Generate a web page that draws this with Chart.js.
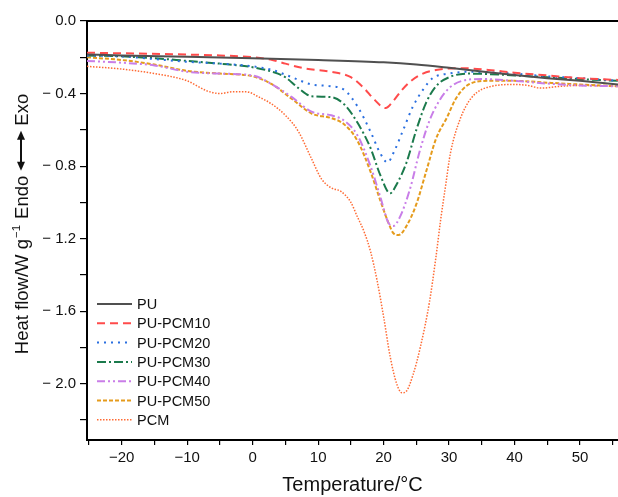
<!DOCTYPE html>
<html>
<head>
<meta charset="utf-8">
<title>DSC curves</title>
<script src="https://cdn.jsdelivr.net/npm/chart.js@4.4.1/dist/chart.umd.min.js"></script>
<style>
  html, body { margin: 0; padding: 0; background: #fff; }
  canvas { display: block; }
</style>
</head>
<body>
<canvas id="dscChart" width="618" height="497"></canvas>
<script>
// temperatures (°C) and heat flow (W/g)
const puT = [-25.3, -20, -10, 0, 10, 20, 25, 30, 35, 40, 45, 50, 55.8];
const puY = [-0.185, -0.19, -0.197, -0.205, -0.215, -0.228, -0.24, -0.258, -0.278, -0.298, -0.315, -0.33, -0.35];

const pcm10T = [-25.3, -20, -10, -5, 0, 3, 5, 8, 12, 15, 17, 18.5, 20.3, 21.5, 22.8, 24.2, 26, 28, 32, 36, 40, 45, 50, 55.8];
const pcm10Y = [-0.175, -0.178, -0.185, -0.19, -0.2, -0.215, -0.235, -0.262, -0.28, -0.31, -0.37, -0.43, -0.48, -0.44, -0.38, -0.33, -0.29, -0.27, -0.26, -0.27, -0.285, -0.3, -0.315, -0.325];

const pcm20T = [-25.3, -20, -15, -10, -5, 0, 3, 6, 9, 12, 14, 16, 18, 19.5, 20.6, 21.6, 23, 24.5, 26, 27.5, 30, 33, 40, 45, 50, 55.8];
const pcm20Y = [-0.19, -0.195, -0.21, -0.225, -0.235, -0.25, -0.27, -0.31, -0.35, -0.36, -0.38, -0.47, -0.61, -0.73, -0.78, -0.72, -0.6, -0.47, -0.38, -0.315, -0.29, -0.28, -0.29, -0.305, -0.315, -0.33];

const pcm30T = [-25.3, -20, -15, -10, -5, 0, 3, 5, 7, 9, 12, 14, 16, 18, 19.5, 21, 22, 23.5, 25, 26.5, 28, 30, 33, 40, 45, 50, 55.8];
const pcm30Y = [-0.19, -0.195, -0.205, -0.22, -0.235, -0.255, -0.28, -0.31, -0.37, -0.415, -0.42, -0.46, -0.56, -0.7, -0.85, -0.95, -0.9, -0.78, -0.6, -0.45, -0.36, -0.31, -0.29, -0.3, -0.31, -0.32, -0.33];

const pcm40T = [-25.3, -20, -15, -10, -5, 0, 3, 6, 9, 12, 14, 16, 18, 19.5, 20.7, 21.5, 22.5, 24, 25.5, 27, 28.5, 30, 32, 35, 40, 45, 50, 55.8];
const pcm40Y = [-0.22, -0.23, -0.245, -0.28, -0.29, -0.3, -0.35, -0.42, -0.5, -0.52, -0.55, -0.63, -0.8, -0.97, -1.11, -1.13, -1.08, -0.93, -0.72, -0.55, -0.44, -0.37, -0.33, -0.32, -0.33, -0.345, -0.355, -0.36];

const pcm50T = [-25.3, -20, -15, -10, -5, 0, 3, 6, 9, 12, 14, 16, 18, 19.5, 20.6, 21.5, 22.3, 23.5, 25, 26.5, 28, 29.7, 31, 33, 36, 40, 45, 50, 55.8];
const pcm50Y = [-0.2, -0.215, -0.24, -0.275, -0.29, -0.305, -0.35, -0.43, -0.51, -0.535, -0.57, -0.66, -0.83, -0.99, -1.1, -1.17, -1.18, -1.13, -1.01, -0.83, -0.65, -0.53, -0.43, -0.35, -0.33, -0.33, -0.34, -0.35, -0.36];

const pcmT = [-25.3, -20, -15, -10, -7, -5, -3, -1, 1, 3, 5, 7, 9, 10.5, 12, 13.5, 15, 16, 17, 18, 19, 20, 21, 22, 22.8, 23.5, 24.5, 25.6, 27, 28, 28.7, 29.5, 30.2, 31.7, 33.5, 36.5, 40, 42, 44, 47, 50, 55.8];
const pcmY = [-0.25, -0.265, -0.29, -0.33, -0.385, -0.4, -0.39, -0.39, -0.42, -0.46, -0.52, -0.61, -0.76, -0.87, -0.92, -0.94, -1.0, -1.08, -1.16, -1.27, -1.43, -1.63, -1.85, -2.0, -2.05, -2.04, -1.95, -1.8, -1.55, -1.3, -1.1, -0.9, -0.73, -0.54, -0.42, -0.36, -0.35, -0.355, -0.37, -0.36, -0.355, -0.36];

const seriesNames = ['PU', 'PU-PCM10', 'PU-PCM20', 'PU-PCM30', 'PU-PCM40', 'PU-PCM50', 'PCM'];

const FONT = '"Liberation Sans", Arial, Helvetica, sans-serif';

function toPoints(xs, ys) {
    return xs.map((x, i) => ({ x: x, y: ys[i] }));
}

function line(label, xs, ys, color, dash, width) {
    return {
        label: label,
        data: toPoints(xs, ys),
        borderColor: color,
        backgroundColor: color,
        borderDash: dash,
        borderWidth: width,
        pointRadius: 0,
        fill: false,
        cubicInterpolationMode: 'monotone'
    };
}

// legend drawn inside the plot, bottom left
const insideLegend = {
    id: 'insideLegend',
    afterDatasetsDraw(chart) {
        const ctx = chart.ctx;
        ctx.save();
        ctx.font = '14.5px ' + FONT;
        ctx.textBaseline = 'middle';
        chart.data.datasets.forEach((ds, i) => {
            const y = 304 + i * 19.3;
            ctx.strokeStyle = ds.borderColor;
            ctx.lineWidth = ds.borderWidth;
            ctx.setLineDash(ds.borderDash || []);
            ctx.beginPath();
            ctx.moveTo(97, y);
            ctx.lineTo(132, y);
            ctx.stroke();
            ctx.setLineDash([]);
            ctx.fillStyle = '#111';
            ctx.fillText(ds.label, 137, y + 1);
        });
        ctx.restore();
    }
};

// frame top line + rotated y title with superscript and arrow
const frameAndTitle = {
    id: 'frameAndTitle',
    afterDraw(chart) {
        const ctx = chart.ctx;
        const a = chart.chartArea;
        ctx.save();
        ctx.strokeStyle = '#000';
        ctx.lineWidth = 2;
        ctx.beginPath();
        ctx.moveTo(a.left, a.top);
        ctx.lineTo(a.right, a.top);
        ctx.stroke();

        ctx.translate(21, 224);
        ctx.rotate(-Math.PI / 2);
        ctx.fillStyle = '#111';
        ctx.textBaseline = 'alphabetic';
        const big = '18.5px ' + FONT;
        const small = '11.5px ' + FONT;
        ctx.font = big;
        const t1 = 'Heat flow/W g';
        const w1 = ctx.measureText(t1).width;
        const tEndo = 'Endo';
        const wEndo = ctx.measureText(tEndo).width;
        const tExo = 'Exo';
        const wExo = ctx.measureText(tExo).width;
        ctx.font = small;
        const tSup = '\u22121';
        const wSup = ctx.measureText(tSup).width;
        const gap = 5;
        const arrowLen = 40;
        const total = w1 + wSup + gap + 2 + wEndo + gap + arrowLen + gap + wExo;
        let x = -total / 2;
        const base = 7;

        ctx.font = big;
        ctx.fillText(t1, x, base);
        x += w1 + 1;
        ctx.font = small;
        ctx.fillText(tSup, x, base - 8);
        x += wSup + gap + 1;
        ctx.font = big;
        ctx.fillText(tEndo, x, base);
        x += wEndo + gap;

        // double headed arrow
        const cy = 0;
        ctx.strokeStyle = '#111';
        ctx.lineWidth = 2;
        ctx.beginPath();
        ctx.moveTo(x + 6, cy);
        ctx.lineTo(x + arrowLen - 6, cy);
        ctx.stroke();
        ctx.beginPath();
        ctx.moveTo(x, cy);
        ctx.lineTo(x + 9, cy - 4);
        ctx.lineTo(x + 9, cy + 4);
        ctx.closePath();
        ctx.fill();
        ctx.beginPath();
        ctx.moveTo(x + arrowLen, cy);
        ctx.lineTo(x + arrowLen - 9, cy - 4);
        ctx.lineTo(x + arrowLen - 9, cy + 4);
        ctx.closePath();
        ctx.fill();
        x += arrowLen + gap;

        ctx.fillText(tExo, x, base);
        ctx.restore();
    }
};

const ctx = document.getElementById('dscChart').getContext('2d');

new Chart(ctx, {
    type: 'line',
    data: {
        datasets: [
            line(seriesNames[0], puT, puY, '#505050', [], 2),
            line(seriesNames[1], pcm10T, pcm10Y, '#ff4b4b', [8, 5], 2),
            line(seriesNames[2], pcm20T, pcm20Y, '#2a6fe0', [2, 5], 2),
            line(seriesNames[3], pcm30T, pcm30Y, '#1b7a4c', [9, 3, 2, 3], 2),
            line(seriesNames[4], pcm40T, pcm40Y, '#c97ee8', [8, 3, 2, 3, 2, 3], 2),
            line(seriesNames[5], pcm50T, pcm50Y, '#e59b1c', [4, 2], 2),
            line(seriesNames[6], pcmT, pcmY, '#ff6a33', [1.5, 1.5], 1.5)
        ]
    },
    options: {
        responsive: false,
        animation: false,
        layout: { padding: { top: 21, right: 0, bottom: 0, left: 0 } },
        plugins: {
            legend: { display: false },
            tooltip: { enabled: false }
        },
        scales: {
            x: {
                type: 'linear',
                min: -25.3,
                max: 55.8,
                afterFit(scale) { scale.height = 57; },
                border: { display: true, color: '#000', width: 2 },
                grid: { display: true, drawOnChartArea: false, drawTicks: true, tickLength: 5, color: '#000', lineWidth: 1.2 },
                ticks: {
                    stepSize: 5,
                    autoSkip: false,
                    maxRotation: 0,
                    includeBounds: false,
                    padding: 4,
                    color: '#111',
                    font: { family: FONT, size: 15 },
                    callback: v => (Math.round(v) % 10 === 0 ? (v < 0 ? '\u2212' + Math.abs(v) : String(v)) : '')
                },
                title: {
                    display: true,
                    text: 'Temperature/\u00b0C',
                    color: '#111',
                    font: { family: FONT, size: 20 },
                    padding: { top: 0, bottom: 0 }
                }
            },
            y: {
                min: -2.31,
                max: 0,
                afterFit(scale) { scale.width = 87; },
                border: { display: true, color: '#000', width: 2 },
                grid: { display: true, drawOnChartArea: false, drawTicks: true, tickLength: 7, color: '#000', lineWidth: 1.2 },
                ticks: {
                    stepSize: 0.2,
                    autoSkip: false,
                    includeBounds: false,
                    padding: 4,
                    color: '#111',
                    font: { family: FONT, size: 15 },
                    callback: v => {
                        const r = Math.round(v * 10);
                        if (r % 4 !== 0) return '';
                        if (r === 0) return '0.0';
                        return '\u2212 ' + Math.abs(v).toFixed(1);
                    }
                }
            }
        }
    },
    plugins: [insideLegend, frameAndTitle]
});
</script>
</body>
</html>
